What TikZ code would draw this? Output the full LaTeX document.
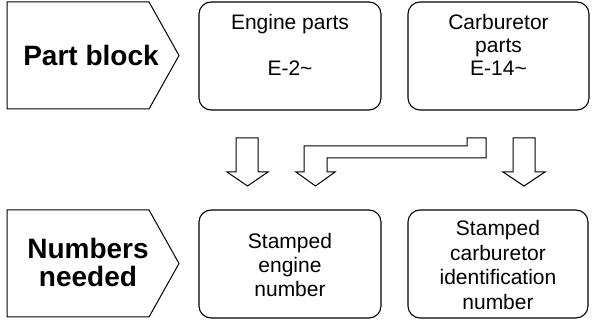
\documentclass[tikz,border=0pt]{standalone}
\usepackage{fontspec}
\setmainfont{Liberation Sans}
\begin{document}
\begin{tikzpicture}[x=1pt,y=-1pt,
  pent/.style={draw=black,line width=1pt,line join=miter},
  headtxt/.style={font=\bfseries\fontsize{28}{28}\selectfont,align=center,inner sep=0pt},
  rbox/.style={draw=black,line width=1.1pt,rounded corners=12pt,inner sep=0pt},
  boxtxt/.style={align=center,inner sep=0pt,font=\fontsize{21}{23.5}\selectfont},
  blockarrow/.style={draw=black,line width=1pt,fill=white,line join=miter}]
\useasboundingbox (0,0) rectangle (592,320);
% pentagons
\draw[pent] (7,2) -- (149,2) -- (179,55.5) -- (149,109) -- (7,109) -- cycle;
\node[headtxt] (pb) at (91,55) {Part block};
\draw[pent] (7,210) -- (149,210) -- (179,263.5) -- (149,317) -- (7,317) -- cycle;
\node[headtxt] (nn) at (88,262) {Numbers\\needed};
% boxes
\node[rbox,minimum width=182pt,minimum height=108pt] (ep) at (290,56) {};
\node[rbox,minimum width=181pt,minimum height=108pt] (cp) at (498.5,56) {};
\node[rbox,minimum width=182pt,minimum height=108pt] (se) at (290,264) {};
\node[rbox,minimum width=180pt,minimum height=108pt] (sc) at (498,264) {};
\node[boxtxt,font=\fontsize{21}{23}\selectfont] (ept) at (290,45) {Engine parts\\[23pt]E-2\textasciitilde};
\node[boxtxt,font=\fontsize{21}{23}\selectfont] (cpt) at (498.5,45) {Carburetor\\parts\\E-14\textasciitilde};
\node[boxtxt,font=\fontsize{21}{24}\selectfont] (set) at (290,265) {Stamped\\engine\\number};
\node[boxtxt,font=\fontsize{21}{24.5}\selectfont] (sct) at (498,265) {Stamped\\carburetor\\identification\\number};
% block arrows
\draw[blockarrow] (236,138) -- (258,138) -- (258,172) -- (268,172) -- (247.5,186) -- (227,172) -- (236,172) -- cycle;
\draw[blockarrow] (513,138) -- (535,138) -- (535,172) -- (545,172) -- (524,186) -- (503,172) -- (513,172) -- cycle;
\draw[blockarrow] (304,172) -- (304,146) -- (467,146) -- (467,138) -- (486,138) -- (486,158) -- (327,158) -- (327,172) -- (335,172) -- (315.5,186) -- (296,172) -- cycle;
\end{tikzpicture}
\end{document}
